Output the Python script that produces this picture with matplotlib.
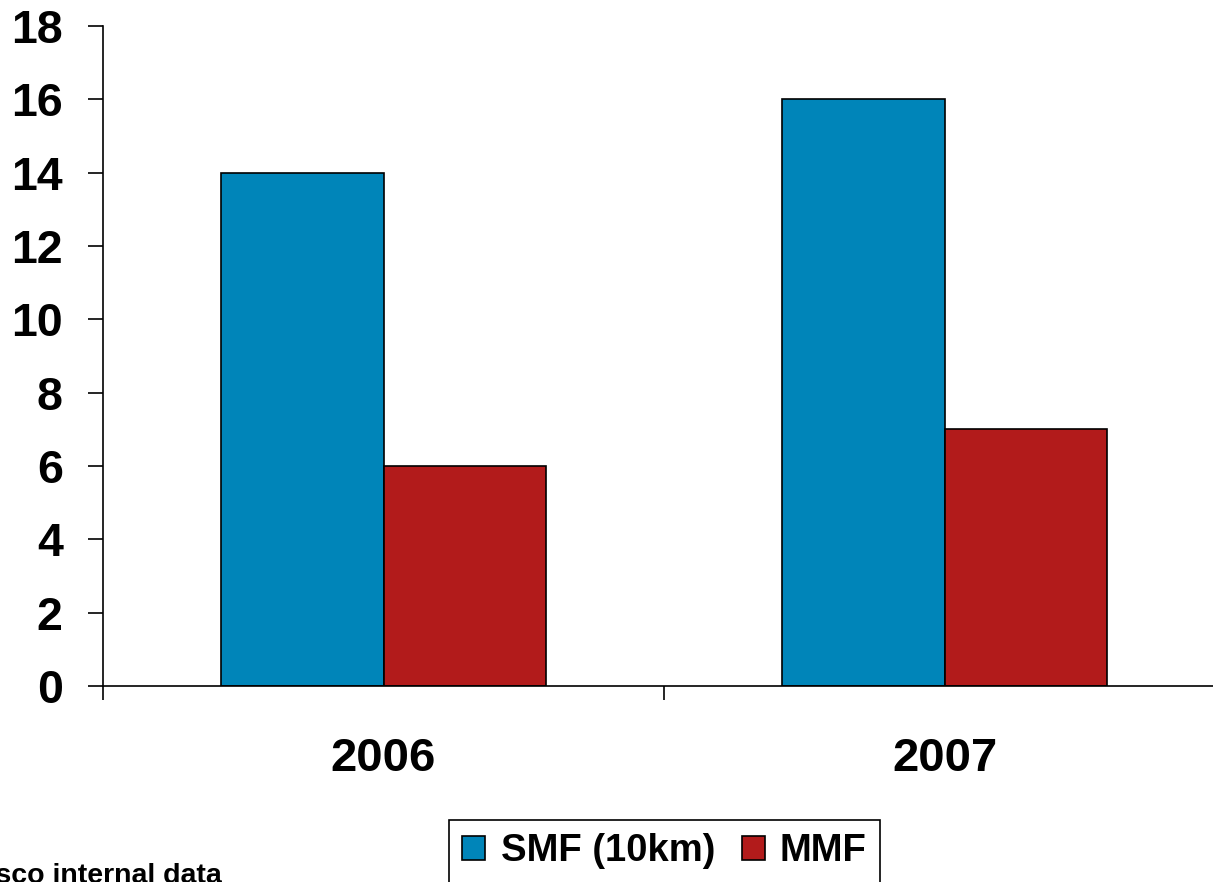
import matplotlib.pyplot as plt
import numpy as np

years = ['2006', '2007']
smf = [14, 16]
mmf = [6, 7]
series_names = ['SMF (10km)', 'MMF']
colors = ['#0085B9', '#B21B1B']

plt.rcParams['font.family'] = ['Liberation Sans', 'DejaVu Sans']
plt.rcParams['font.weight'] = 'bold'

fig = plt.figure(figsize=(12.13, 8.82), dpi=100)
# axes runs past the right edge of the figure, like the original slide
ax = fig.add_axes([103 / 1213, 1 - 686 / 882, 1122 / 1213, 660 / 882])

x = np.arange(len(years))
w = 0.289
ax.bar(x - w / 2, smf, w, color=colors[0], edgecolor='black', linewidth=1.2, label=series_names[0])
ax.bar(x + w / 2, mmf, w, color=colors[1], edgecolor='black', linewidth=1.2, label=series_names[1])

ax.set_xlim(-0.5, 1.5)
ax.set_ylim(0, 18)
ax.set_yticks(range(0, 19, 2))
ax.set_xticks(x)
ax.set_xticklabels(years)
ax.set_xticks([-0.5, 0.5, 1.5], minor=True)

for s in ['top', 'right']:
    ax.spines[s].set_visible(False)
for s in ['left', 'bottom']:
    ax.spines[s].set_linewidth(1.2)

ax.tick_params(axis='y', length=11, width=1.2, pad=18, labelsize=33.5)
ax.tick_params(axis='x', which='major', length=0, pad=37, labelsize=34)
ax.tick_params(axis='x', which='minor', length=10, width=1.2)

leg = fig.legend(loc='upper left', bbox_to_anchor=(449 / 1213, 1 - 820 / 882),
                 ncol=2, fontsize=27.5, frameon=True, fancybox=False,
                 edgecolor='black', framealpha=1, handlelength=0.6, handleheight=0.6,
                 handletextpad=0.4, columnspacing=0.7, borderpad=0.35, borderaxespad=0)
leg.get_frame().set_linewidth(1.2)

# footnote sits at the very bottom-left, partly off the page
fig.text(222 / 1213, -1 / 882, 'Source: Cisco internal data', ha='right', va='baseline',
         fontsize=20.5, fontweight='bold')

fig.savefig('out.png', dpi=100)
